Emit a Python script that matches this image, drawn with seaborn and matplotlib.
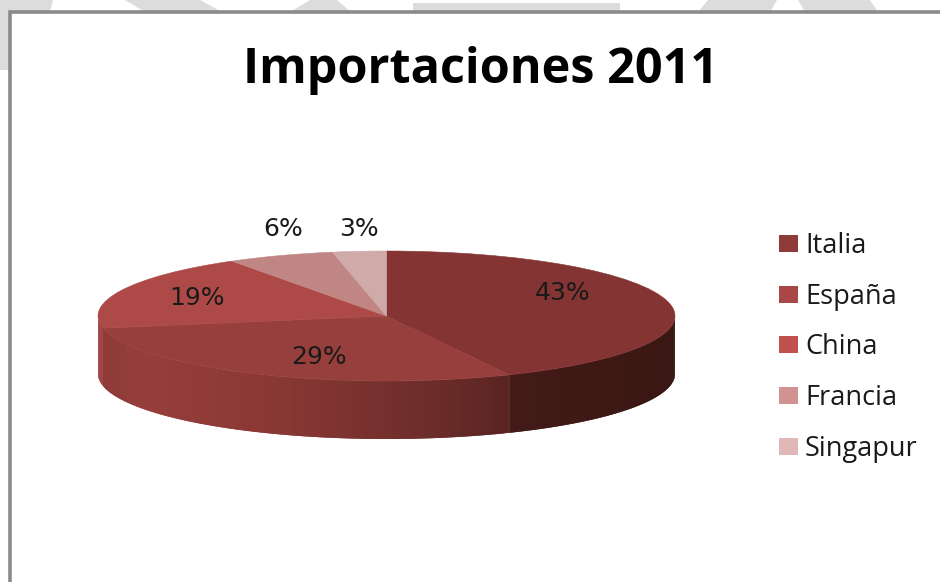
import numpy as np
import matplotlib
matplotlib.use("Agg")
import matplotlib.pyplot as plt
from matplotlib.patches import Patch, Polygon, Rectangle
import seaborn as sns

# Import shares by country
countries = ["Italia", "España", "China", "Francia", "Singapur"]
shares = [43, 29, 19, 6, 3]
title = "Importaciones 2011"

face_colors = sns.color_palette(["#843533", "#973f3c", "#ad4a47", "#c08684", "#d0aaa9"])
legend_colors = sns.color_palette(["#8f3b39", "#a84745", "#c0504d", "#d09391", "#e0b8b7"])

# Shading of the rim, as (horizontal unit position, colour) stops per slice
rim_stops = {
    "Italia": [(-1.0, "#3b1714"), (0.42, "#431a17"), (1.0, "#3a1714")],
    "España": [(-1.0, "#8c3a37"), (-0.85, "#963e3b"), (-0.4, "#8a3835"), (0.1, "#702e2b"), (0.43, "#5a2421")],
    "China": [(-1.0, "#a04543"), (1.0, "#a04543")],
}
RIM_DEPTH = 0.892

# Label anchors in unit-pie coordinates
label_xy = [(0.612, 0.354), (-0.235, -0.63), (-0.657, 0.277), (-0.36, 1.34), (-0.097, 1.34)]

# Grey shapes showing behind the chart area, in pixels
backdrop_shapes = [
    [(0, 0), (53, 0), (50, 12), (9, 12), (9, 70), (0, 70)],
    [(125, 0), (200, 0), (222, 12), (145, 12)],
    [(290, 12), (310, 0), (337, 0), (351, 12)],
    [(413, 3), (620, 3), (620, 12), (413, 12)],
    [(698, 12), (708, 0), (777, 0), (770, 12)],
    [(798, 0), (870, 0), (878, 12), (805, 12)],
]

sns.set_theme(style="white")
W, H = 940, 582
fig = plt.figure(figsize=(W / 100, H / 100), dpi=100, facecolor="white")

# Page layer: backdrop shapes and the chart frame
page = fig.add_axes([0, 0, 1, 1], zorder=0)
page.set_xlim(0, W)
page.set_ylim(H, 0)
page.axis("off")
for shape in backdrop_shapes:
    page.add_patch(Polygon(shape, closed=True, facecolor="#dcdcdc", edgecolor="none"))
page.add_patch(Rectangle((9.5, 12), W + 20, H + 20, facecolor="white", edgecolor="#8a8a8a", linewidth=2.6))

# Pie layer: the unit circle is squashed into a flat ellipse by the axes box
left, right, top, bottom = 98, 675, 251, 439
ax = fig.add_axes([left / W, 1 - bottom / H, (right - left) / W, (bottom - top) / H], zorder=1)
wedges, _ = ax.pie(shares, colors=face_colors, startangle=90, counterclock=False,
                   radius=1, wedgeprops={"linewidth": 0, "zorder": 3})
for wedge, colour in zip(wedges, face_colors):
    wedge.set_edgecolor(colour)
    wedge.set_linewidth(0.4)
ax.set_aspect("auto")
ax.set_xlim(-1, 1)
ax.set_ylim(-1 - RIM_DEPTH, 1)
ax.axis("off")

# Rim of the disc: each shaded strip overlaps the next one so no seams show
edges = np.cumsum([0] + shares) / sum(shares) * 2 * np.pi
for name, a0, a1 in zip(countries, edges[:-1], edges[1:]):
    lo, hi = max(a0, np.pi / 2), min(a1, 3 * np.pi / 2)
    if lo >= hi:
        continue
    stops = rim_stops[name]
    sx = [s[0] for s in stops]
    sc = np.array([matplotlib.colors.to_rgb(s[1]) for s in stops])
    ticks = np.linspace(lo, hi, max(4, int((hi - lo) * 60)))
    for i in range(len(ticks) - 1):
        arc = np.linspace(ticks[i], ticks[min(i + 2, len(ticks) - 1)], 6)
        xs, ys = np.sin(arc), np.cos(arc)
        mid = np.sin((ticks[i] + ticks[i + 1]) / 2)
        col = [np.interp(mid, sx, sc[:, k]) for k in range(3)]
        ax.fill(np.r_[xs, xs[::-1]], np.r_[ys, ys[::-1] - RIM_DEPTH],
                color=col, linewidth=0, zorder=2)

for share, (lx, ly) in zip(shares, label_xy):
    ax.text(lx, ly, f"{share}%", ha="center", va="center", fontsize=18,
            family="DejaVu Sans", color="#1a1a1a", zorder=4, clip_on=False)

fig.text(481 / W, 1 - 83 / H, title, ha="center", va="baseline", fontsize=35,
         family="Open Sans", fontweight="bold", color="black")

handles = [Patch(facecolor=c, edgecolor="none") for c in legend_colors]
fig.legend(handles, countries, loc="center left", bbox_to_anchor=(779 / W, 1 - 347.5 / H),
           frameon=False, prop={"family": "Open Sans", "size": 19.5}, labelspacing=0.845,
           handlelength=0.70, handleheight=0.59, handletextpad=0.26, borderpad=0,
           borderaxespad=0, labelcolor="#1a1a1a")

fig.savefig("out.png", dpi=100)
